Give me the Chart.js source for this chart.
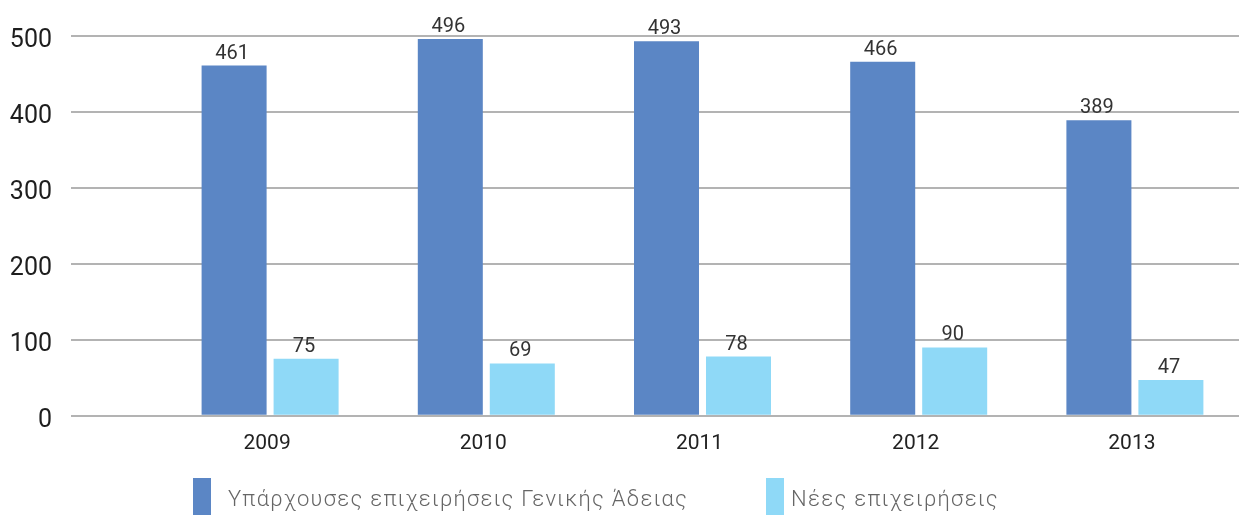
<!DOCTYPE html>
<html lang="el">
<head>
<meta charset="utf-8">
<title>Επιχειρήσεις Γενικής Άδειας 2009-2013</title>
<script src="https://cdn.jsdelivr.net/npm/chart.js@4.4.1/dist/chart.umd.min.js"></script>
<style>
  html, body { margin: 0; padding: 0; background: #fff; }
  #wrap { position: relative; width: 1239px; height: 515px; overflow: hidden; }
  #chart { position: absolute; left: 0; top: 0; }
  #legend { position: absolute; left: 0; top: 478px; width: 1239px; height: 37px;
            font-family: Roboto, sans-serif; font-weight: 300; font-size: 22px;
            letter-spacing: 1.3px; color: #666; }
  .item { position: absolute; top: 0; height: 37px; display: flex; align-items: center; white-space: nowrap; }
  .item .box { width: 18px; height: 37px; }
  .item .txt { margin-left: 7px; padding-top: 3px; }
  .item.i0 { left: 193px; }
  .item.i0 .txt { margin-left: 17px; }
  .item.i1 { left: 766px; }
</style>
</head>
<body>
<div id="wrap">
  <canvas id="chart" width="1243" height="515"></canvas>
  <div id="legend"></div>
</div>
<script>
const years = ["2009", "2010", "2011", "2012", "2013"];
const existingFirms = [461, 496, 493, 466, 389];
const newFirms = [75, 69, 78, 90, 47];
const seriesNames = ["Υπάρχουσες επιχειρήσεις Γενικής Άδειας", "Νέες επιχειρήσεις"];
const seriesColors = ["#5b86c5", "#8fd9f7"];
const yTicks = [0, 100, 200, 300, 400, 500];

const gridColor = "#b3b3b3";

// numbers above the bars
const valueLabels = {
  id: "valueLabels",
  afterDatasetsDraw(chart) {
    const ctx = chart.ctx;
    ctx.save();
    ctx.font = "400 20px Roboto";
    ctx.fillStyle = "#333";
    ctx.textAlign = "center";
    ctx.textBaseline = "alphabetic";
    chart.data.datasets.forEach((ds, i) => {
      chart.getDatasetMeta(i).data.forEach((bar, j) => {
        ctx.fillText(ds.data[j], bar.x - 2, bar.y - 7);
      });
    });
    ctx.restore();
  }
};

const chart = new Chart(document.getElementById("chart"), {
  type: "bar",
  data: {
    labels: years,
    datasets: [
      { label: seriesNames[0], data: existingFirms, backgroundColor: seriesColors[0] },
      { label: seriesNames[1], data: newFirms, backgroundColor: seriesColors[1] }
    ]
  },
  options: {
    responsive: false,
    animation: false,
    layout: { padding: { top: 36, right: 0, bottom: 44, left: 0 } },
    datasets: { bar: { categoryPercentage: 0.666, barPercentage: 0.903 } },
    plugins: { legend: { display: false }, tooltip: { enabled: false } },
    scales: {
      x: {
        grid: { display: false, drawTicks: false },
        border: { display: false },
        ticks: { font: { family: "Roboto", size: 21 }, color: "#222", padding: 15, labelOffset: -3 }
      },
      y: {
        min: 0,
        max: 500,
        afterBuildTicks: s => { s.ticks = yTicks.map(v => ({ value: v })); },
        afterFit: s => { s.width = 162; },
        border: { display: false },
        grid: { color: gridColor, lineWidth: 2, tickLength: 91, tickColor: gridColor, tickWidth: 2 },
        ticks: { font: { family: "Roboto", size: 25 }, color: "#1e1e1e", padding: 19, labelOffset: 5 }
      }
    }
  },
  plugins: [valueLabels]
});

// legend
const legend = document.getElementById("legend");
chart.data.datasets.forEach((ds, i) => {
  const item = document.createElement("div");
  item.className = "item i" + i;
  item.innerHTML = `<span class="box" style="background:${ds.backgroundColor}"></span><span class="txt">${ds.label}</span>`;
  legend.appendChild(item);
});
</script>
</body>
</html>
